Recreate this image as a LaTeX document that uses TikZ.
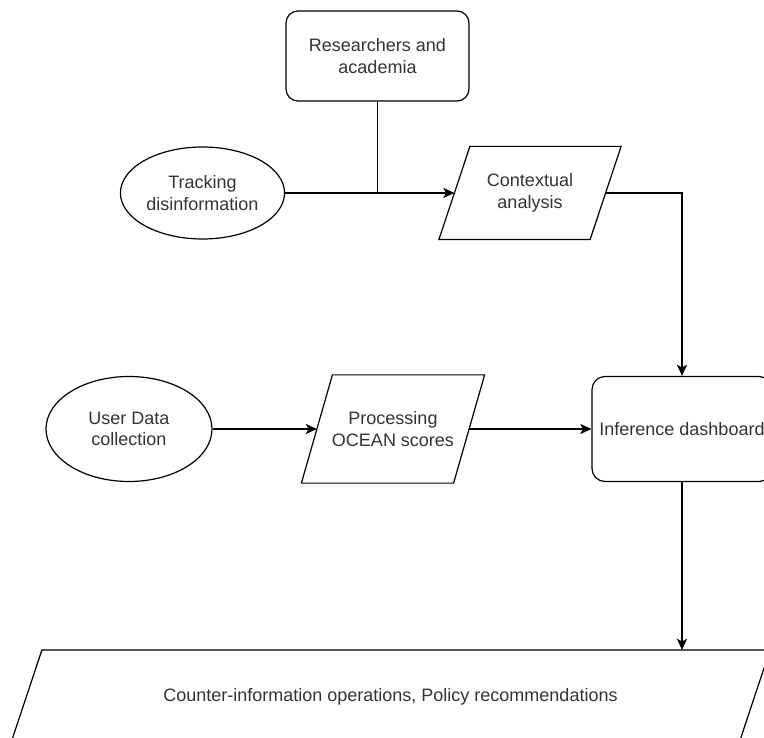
\documentclass[tikz,border=0pt]{standalone}
\usepackage{fontspec}
\setmainfont{Liberation Sans}
\usetikzlibrary{shapes.geometric,arrows.meta,positioning}

\tikzset{
  basic/.style={draw, line width=1.2pt, text=black!80, align=center,
    font=\fontsize{18}{21.5}\selectfont, inner sep=2pt},
  actor/.style={basic, rectangle, rounded corners=12pt},
  source/.style={basic, ellipse},
  % parallelogram: the node box is the mid-line, sides leaning right
  inout/.style={basic, draw=none, rectangle,
    append after command={\pgfextra{\draw[line width=1.2pt]
      ([xshift=-15.5pt]\tikzlastnode.south west) --
      ([xshift=15.5pt]\tikzlastnode.north west) --
      ([xshift=15.5pt]\tikzlastnode.north east) --
      ([xshift=-15.5pt]\tikzlastnode.south east) -- cycle;}}},
}

\begin{document}
\begin{tikzpicture}[node distance=137pt, line width=1.2pt,
    >={Stealth[length=11pt,width=10pt,inset=2.5pt]}]
    \useasboundingbox (0,0) rectangle (764pt,-738pt);
    \clip (0,0) rectangle (764pt,-738pt);

    \node[actor, minimum width=183pt, minimum height=90pt] (res)
      at (377.5pt,-56pt) {Researchers and\\academia};

    \node[source, below of=res, xshift=-175pt,
      minimum width=153pt, minimum height=92pt] (track) {Tracking\\disinformation};

    \node[inout, right of=track, xshift=190.5pt,
      minimum width=150pt, minimum height=92pt] (ctx) {Contextual\\analysis};

    \node[source, below of=track, xshift=-73.5pt, yshift=-99pt,
      minimum width=166pt, minimum height=105pt] (user) {User Data\\collection};

    \node[inout, right of=user, xshift=127pt,
      minimum width=151pt, minimum height=107pt] (proc) {Processing\\OCEAN scores};

    \node[actor, right of=proc, xshift=152pt, rounded corners=13pt,
      minimum width=180pt, minimum height=105pt] (inf) {Inference dashboard};

    \node[inout, below of=proc, xshift=-2.5pt, yshift=-130.5pt,
      minimum width=727pt, minimum height=92pt] (out)
      {Counter-information operations, Policy recommendations};

    \coordinate (join) at (res |- track);
    \draw (res) -- (join);
    \draw [->] (track) -- (ctx);
    \draw [->] (ctx.east) -| (inf);
    \draw [->] (user) -- (proc);
    \draw [->] (proc) -- (inf);
    \draw [->] (inf) -- (inf |- out.north);
\end{tikzpicture}
\end{document}
